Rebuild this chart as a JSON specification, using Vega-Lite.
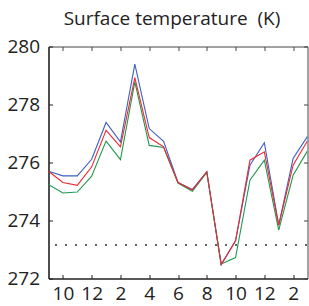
{
  "$schema": "https://vega.github.io/schema/vega-lite/v6.json",
  "autosize": "none",
  "width": 259,
  "height": 232,
  "padding": {"left": 48.5, "top": 46.5, "right": 1.5, "bottom": 27.5},
  "background": "white",
  "config": {
    "font": "Open Sans",
    "view": {"stroke": null}
  },
  "title": {
    "text": "Surface temperature\u00a0\u00a0(K)",
    "font": "Open Sans",
    "fontSize": 19,
    "fontWeight": "normal",
    "color": "#222",
    "anchor": "middle",
    "dx": -6,
    "offset": 9
  },
  "data": {
    "values": [
      {"m": 9, "s": "blue", "t": 275.70}, {"m": 10, "s": "blue", "t": 275.54}, {"m": 11, "s": "blue", "t": 275.54}, {"m": 12, "s": "blue", "t": 276.11},
      {"m": 13, "s": "blue", "t": 277.38}, {"m": 14, "s": "blue", "t": 276.71}, {"m": 15, "s": "blue", "t": 279.39}, {"m": 16, "s": "blue", "t": 277.17},
      {"m": 17, "s": "blue", "t": 276.73}, {"m": 18, "s": "blue", "t": 275.31}, {"m": 19, "s": "blue", "t": 275.07}, {"m": 20, "s": "blue", "t": 275.68},
      {"m": 21, "s": "blue", "t": 272.48}, {"m": 22, "s": "blue", "t": 273.30}, {"m": 23, "s": "blue", "t": 275.91}, {"m": 24, "s": "blue", "t": 276.68},
      {"m": 25, "s": "blue", "t": 273.84}, {"m": 26, "s": "blue", "t": 276.14}, {"m": 27, "s": "blue", "t": 276.90},
      {"m": 9, "s": "green", "t": 275.24}, {"m": 10, "s": "green", "t": 274.95}, {"m": 11, "s": "green", "t": 274.98}, {"m": 12, "s": "green", "t": 275.53},
      {"m": 13, "s": "green", "t": 276.74}, {"m": 14, "s": "green", "t": 276.10}, {"m": 15, "s": "green", "t": 278.78}, {"m": 16, "s": "green", "t": 276.59},
      {"m": 17, "s": "green", "t": 276.52}, {"m": 18, "s": "green", "t": 275.29}, {"m": 19, "s": "green", "t": 275.01}, {"m": 20, "s": "green", "t": 275.66},
      {"m": 21, "s": "green", "t": 272.50}, {"m": 22, "s": "green", "t": 272.72}, {"m": 23, "s": "green", "t": 275.39}, {"m": 24, "s": "green", "t": 276.08},
      {"m": 25, "s": "green", "t": 273.67}, {"m": 26, "s": "green", "t": 275.56}, {"m": 27, "s": "green", "t": 276.40},
      {"m": 9, "s": "red", "t": 275.70}, {"m": 10, "s": "red", "t": 275.31}, {"m": 11, "s": "red", "t": 275.21}, {"m": 12, "s": "red", "t": 275.85},
      {"m": 13, "s": "red", "t": 277.11}, {"m": 14, "s": "red", "t": 276.54}, {"m": 15, "s": "red", "t": 278.93}, {"m": 16, "s": "red", "t": 276.86},
      {"m": 17, "s": "red", "t": 276.54}, {"m": 18, "s": "red", "t": 275.31}, {"m": 19, "s": "red", "t": 275.05}, {"m": 20, "s": "red", "t": 275.68},
      {"m": 21, "s": "red", "t": 272.48}, {"m": 22, "s": "red", "t": 273.30}, {"m": 23, "s": "red", "t": 276.08}, {"m": 24, "s": "red", "t": 276.37},
      {"m": 25, "s": "red", "t": 273.84}, {"m": 26, "s": "red", "t": 275.91}, {"m": 27, "s": "red", "t": 276.75}
    ]
  },
  "resolve": {"axis": {"x": "independent", "y": "independent"}},
  "layer": [
    {
      "mark": {"type": "rule", "color": "#666", "strokeWidth": 1.2, "strokeDash": [1.2, 8.8], "strokeDashOffset": -1},
      "encoding": {
        "y": {"datum": 273.15, "type": "quantitative", "scale": {"domain": [272, 280], "nice": false, "zero": false},
          "axis": {"orient": "left", "values": [272, 274, 276, 278, 280], "format": "d", "tickSize": -4, "tickColor": "#222", "tickWidth": 1,
            "labelFontSize": 19, "labelColor": "#222", "labelPadding": 13, "domainColor": "#222", "domainWidth": 1.6, "grid": false, "title": null}}
      }
    },
    {
      "mark": {"type": "line", "strokeWidth": 1.1, "clip": true},
      "encoding": {
        "x": {"field": "m", "type": "quantitative", "scale": {"domain": [9, 27], "nice": false, "zero": false},
          "axis": {"orient": "bottom", "values": [10, 12, 14, 16, 18, 20, 22, 24, 26], "labelExpr": "((datum.value - 1) % 12) + 1",
            "tickSize": -4, "tickColor": "#222", "tickWidth": 1, "labelFontSize": 19, "labelColor": "#222", "labelPadding": 10,
            "domainColor": "#222", "domainWidth": 1.6, "grid": false, "title": null}},
        "y": {"field": "t", "type": "quantitative", "scale": {"domain": [272, 280], "nice": false, "zero": false},
          "axis": {"orient": "right", "values": [272, 274, 276, 278, 280], "labels": false, "tickSize": -4, "tickColor": "#444",
            "tickWidth": 1, "domainColor": "#444", "domainWidth": 1, "grid": false, "title": null}},
        "color": {"field": "s", "type": "nominal", "legend": null,
          "scale": {"domain": ["green", "blue", "red"], "range": ["#1f9a4f", "#3d5fbf", "#ea2a30"]}},
        "order": {"field": "m"}
      }
    },
    {
      "mark": {"type": "rule", "opacity": 0},
      "encoding": {
        "x": {"datum": 9, "type": "quantitative", "scale": {"domain": [9, 27], "nice": false, "zero": false},
          "axis": {"orient": "top", "values": [10, 12, 14, 16, 18, 20, 22, 24, 26], "labels": false, "tickSize": -4, "tickColor": "#444",
            "tickWidth": 1, "domainColor": "#444", "domainWidth": 1, "grid": false, "title": null}}
      }
    }
  ]
}
